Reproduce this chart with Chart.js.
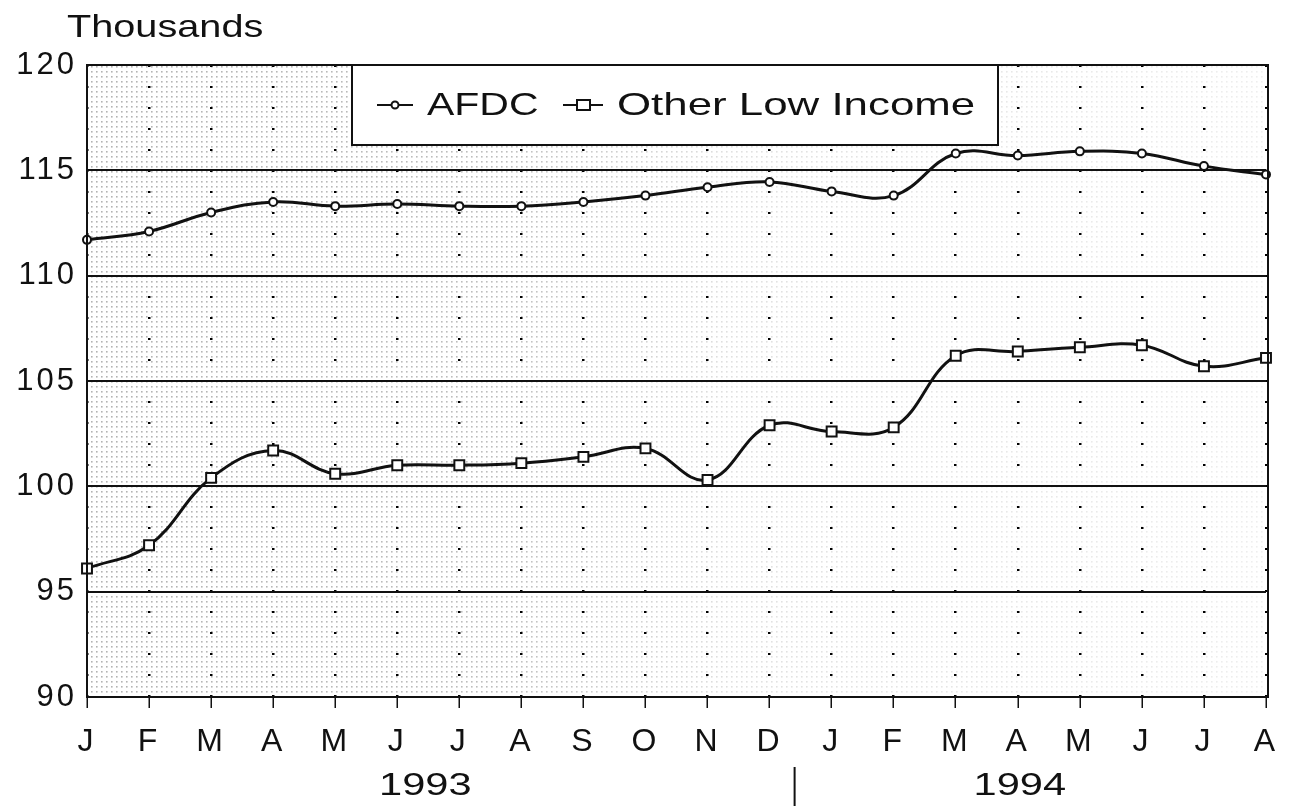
<!DOCTYPE html>
<html>
<head>
<meta charset="utf-8">
<script src="https://cdn.jsdelivr.net/npm/chart.js@4/dist/chart.umd.min.js"></script>
<style>
  html, body { margin: 0; padding: 0; background: #fff; }
  #wrap { position: relative; width: 1293px; height: 807px; }
</style>
</head>
<body>
<div id="wrap"><canvas id="chart" width="1293" height="807"></canvas></div>
<script>
// chart data
const months = ['J', 'F', 'M', 'A', 'M', 'J', 'J', 'A', 'S', 'O', 'N', 'D', 'J', 'F', 'M', 'A', 'M', 'J', 'J', 'A'];
const afdc = [111.7, 112.1, 113.0, 113.5, 113.3, 113.4, 113.3, 113.3, 113.5, 113.8, 114.2, 114.45, 114.0, 113.8, 115.8, 115.7, 115.9, 115.8, 115.2, 114.8];
const otherLowIncome = [96.1, 97.2, 100.4, 101.7, 100.6, 101.0, 101.0, 101.1, 101.4, 101.8, 100.3, 102.9, 102.6, 102.8, 106.2, 106.4, 106.6, 106.7, 105.7, 106.1];
const seriesNames = ['AFDC', 'Other Low Income'];
const yearLabels = ['1993', '1994'];
const unitLabel = 'Thousands';

const FONT = '"Liberation Sans", Arial, Helvetica, sans-serif';

// dotted texture for the plot background
function makeDots() {
    const c = document.createElement('canvas');
    c.width = 5; c.height = 5;
    const g = c.getContext('2d');
    g.fillStyle = 'rgba(0,0,0,0.3)';
    g.fillRect(1, 1, 1.6, 1.6);
    return c;
}

// the scan uses a wide sans face, so stretch text sideways
function wideText(ctx, text, x, y, size, sx, align) {
    ctx.save();
    ctx.font = size + 'px ' + FONT;
    const w = ctx.measureText(text).width * sx;
    let left = x;
    if (align === 'center') left = x - w / 2;
    ctx.translate(left, y);
    ctx.scale(sx, 1);
    ctx.textAlign = 'left';
    ctx.textBaseline = 'middle';
    ctx.fillText(text, 0, 0);
    ctx.restore();
}

const decorations = {
    id: 'decorations',
    beforeDraw(chart) {
        const { ctx, chartArea: a } = chart;
        ctx.save();
        ctx.fillStyle = ctx.createPattern(makeDots(), 'repeat');
        ctx.fillRect(a.left, a.top, a.right - a.left, a.bottom - a.top);
        const fade = ctx.createLinearGradient(a.left, 0, a.right, 0);
        fade.addColorStop(0, 'rgba(255,255,255,0)');
        fade.addColorStop(0.35, 'rgba(255,255,255,0.15)');
        fade.addColorStop(0.55, 'rgba(255,255,255,0.6)');
        fade.addColorStop(1, 'rgba(255,255,255,0.78)');
        ctx.fillStyle = fade;
        ctx.fillRect(a.left, a.top, a.right - a.left, a.bottom - a.top);
        ctx.restore();
        // widen tick numbers a little, like the scan
        ctx.letterSpacing = '3px';
    },
    afterDraw(chart) {
        const { ctx, chartArea: a } = chart;
        const x = chart.scales.x;
        ctx.save();
        ctx.letterSpacing = '0px';
        ctx.strokeStyle = '#111';
        ctx.lineWidth = 2;
        ctx.strokeRect(a.left, a.top, a.right - a.left + 2, a.bottom - a.top);

        ctx.fillStyle = '#111';
        wideText(ctx, unitLabel, 67, 28, 32, 1.24, 'left');

        // legend box
        const lx = 352, ly = a.top, lw = 646, lh = 80;
        ctx.fillStyle = '#fff';
        ctx.fillRect(lx, ly, lw, lh);
        ctx.strokeRect(lx, ly, lw, lh);
        const ty = ly + 40;
        ctx.lineWidth = 2;
        ctx.beginPath(); ctx.moveTo(377, ty); ctx.lineTo(413, ty); ctx.stroke();
        ctx.beginPath(); ctx.arc(395, ty, 3.5, 0, Math.PI * 2);
        ctx.fillStyle = '#fff'; ctx.fill(); ctx.stroke();
        ctx.beginPath(); ctx.moveTo(563, ty); ctx.lineTo(603, ty); ctx.stroke();
        ctx.fillStyle = '#fff';
        ctx.fillRect(577, ty - 5, 13, 10); ctx.strokeRect(577, ty - 5, 13, 10);
        ctx.fillStyle = '#111';
        wideText(ctx, seriesNames[0], 427, ty + 1, 32, 1.28, 'left');
        wideText(ctx, seriesNames[1], 617, ty + 1, 32, 1.37, 'left');

        // year row
        wideText(ctx, yearLabels[0], (x.getPixelForValue(5) + x.getPixelForValue(6)) / 2 - 3, 786, 32, 1.3, 'center');
        wideText(ctx, yearLabels[1], x.getPixelForValue(15) + 2, 786, 32, 1.3, 'center');
        const sep = (x.getPixelForValue(11) + x.getPixelForValue(12)) / 2 - 6;
        ctx.lineWidth = 2;
        ctx.beginPath(); ctx.moveTo(sep, 767); ctx.lineTo(sep, 806); ctx.stroke();
        ctx.restore();
    }
};

new Chart(document.getElementById('chart'), {
    type: 'line',
    data: {
        labels: months,
        datasets: [
            {
                label: seriesNames[0],
                data: afdc,
                borderColor: '#111',
                borderWidth: 3,
                tension: 0.4,
                pointStyle: 'circle',
                pointRadius: 4,
                pointBorderWidth: 2,
                pointBackgroundColor: '#fff',
                pointBorderColor: '#111'
            },
            {
                label: seriesNames[1],
                data: otherLowIncome,
                borderColor: '#111',
                borderWidth: 3,
                tension: 0.4,
                pointStyle: 'rect',
                pointRadius: 7,
                pointBorderWidth: 2,
                pointBackgroundColor: '#fff',
                pointBorderColor: '#111'
            }
        ]
    },
    options: {
        responsive: false,
        animation: false,
        layout: { padding: { top: 65, right: 27, left: 0, bottom: 0 } },
        plugins: {
            legend: { display: false },
            tooltip: { enabled: false }
        },
        scales: {
            x: {
                offset: false,
                grid: {
                    color: '#000',
                    lineWidth: 2.5,
                    drawOnChartArea: true,
                    tickLength: 11,
                    tickColor: '#111',
                    tickWidth: 1.5,
                    tickBorderDash: []
                },
                border: { display: true, color: '#111', width: 2, dash: [2, 19] },
                ticks: {
                    color: '#111',
                    font: { family: FONT, size: 32 },
                    padding: 15,
                    maxRotation: 0,
                    autoSkip: false
                },
                afterFit(scale) { scale.height = 110; }
            },
            y: {
                min: 90,
                max: 120,
                grid: {
                    color: '#111',
                    lineWidth: 2,
                    drawTicks: false
                },
                border: { display: true, color: '#111', width: 2 },
                ticks: {
                    stepSize: 5,
                    color: '#111',
                    font: { family: FONT, size: 31 },
                    padding: 10
                },
                afterFit(scale) { scale.width = 87; }
            }
        }
    },
    plugins: [decorations]
});
</script>
</body>
</html>
